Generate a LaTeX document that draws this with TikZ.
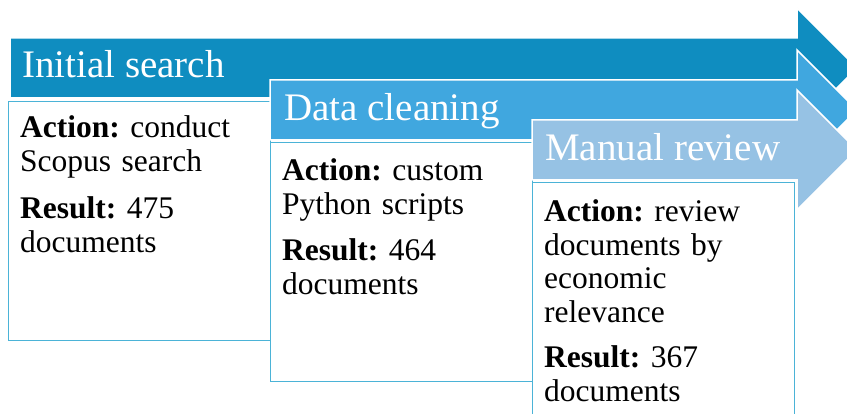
\documentclass[tikz,border=0pt]{standalone}
\usepackage{fontspec}
\setmainfont{Liberation Serif}
\usepackage{tikz}
\frenchspacing

\definecolor{arrowone}{HTML}{0F8DC0}
\definecolor{arrowtwo}{HTML}{40A7DF}
\definecolor{arrowthree}{HTML}{96C2E4}
\definecolor{boxline}{HTML}{4BB3D7}

\begin{document}
\begin{tikzpicture}[x=1pt,y=-1pt,
        stage/.style={draw=white,line width=1.5pt},
        box/.style={draw=boxline,fill=white,line width=1.4pt,anchor=north west,
                    minimum width=262,inner sep=0},
        head/.style={anchor=base west,text=white,inner sep=0,
                     font=\fontsize{39}{40}\selectfont},
        txt/.style={anchor=base west,inner sep=0,text width=245,align=left,
                    font=\fontsize{31.5}{33.5}\selectfont}]
        \useasboundingbox (0,0) rectangle (847,414);
        \clip (0,0) rectangle (847,414);

        \fill[stage,fill=arrowone] (10,38) -- (797,38) -- (797,8) -- (857,68)
        -- (797,128) -- (797,98) -- (10,98) -- cycle;
        \node[head] (h1) at (22,78) {Initial search};
        \node[box,minimum height=239] (box1) at (8,101) {};
        \node[txt] (t1) at (20,138) {\textbf{Action:} conduct\\ Scopus search\\[14pt]
        \textbf{Result:} 475\\ documents};

        \fill[stage,fill=arrowtwo] (270,80) -- (797,80) -- (797,50) -- (857,110)
        -- (797,170) -- (797,140) -- (270,140) -- cycle;
        \node[head] (h2) at (284,121) {Data cleaning};
        \node[box,minimum height=239] (box2) at (270,142) {};
        \node[txt] (t2) at (282,181) {\textbf{Action:} custom\\ Python scripts\\[13pt]
        \textbf{Result:} 464\\ documents};

        \fill[stage,fill=arrowthree] (532,120) -- (797,120) -- (797,90) -- (857,150)
        -- (797,210) -- (797,180) -- (532,180) -- cycle;
        \node[head] (h3) at (545,161) {Manual review};
        \node[box,minimum height=250] (box3) at (532,182) {};
        \node[txt] (t3) at (544,222) {\textbf{Action:} review\\ documents by\\ economic\\
        relevance\\[12pt]
        \textbf{Result:} 367\\ documents};
\end{tikzpicture}
\end{document}
